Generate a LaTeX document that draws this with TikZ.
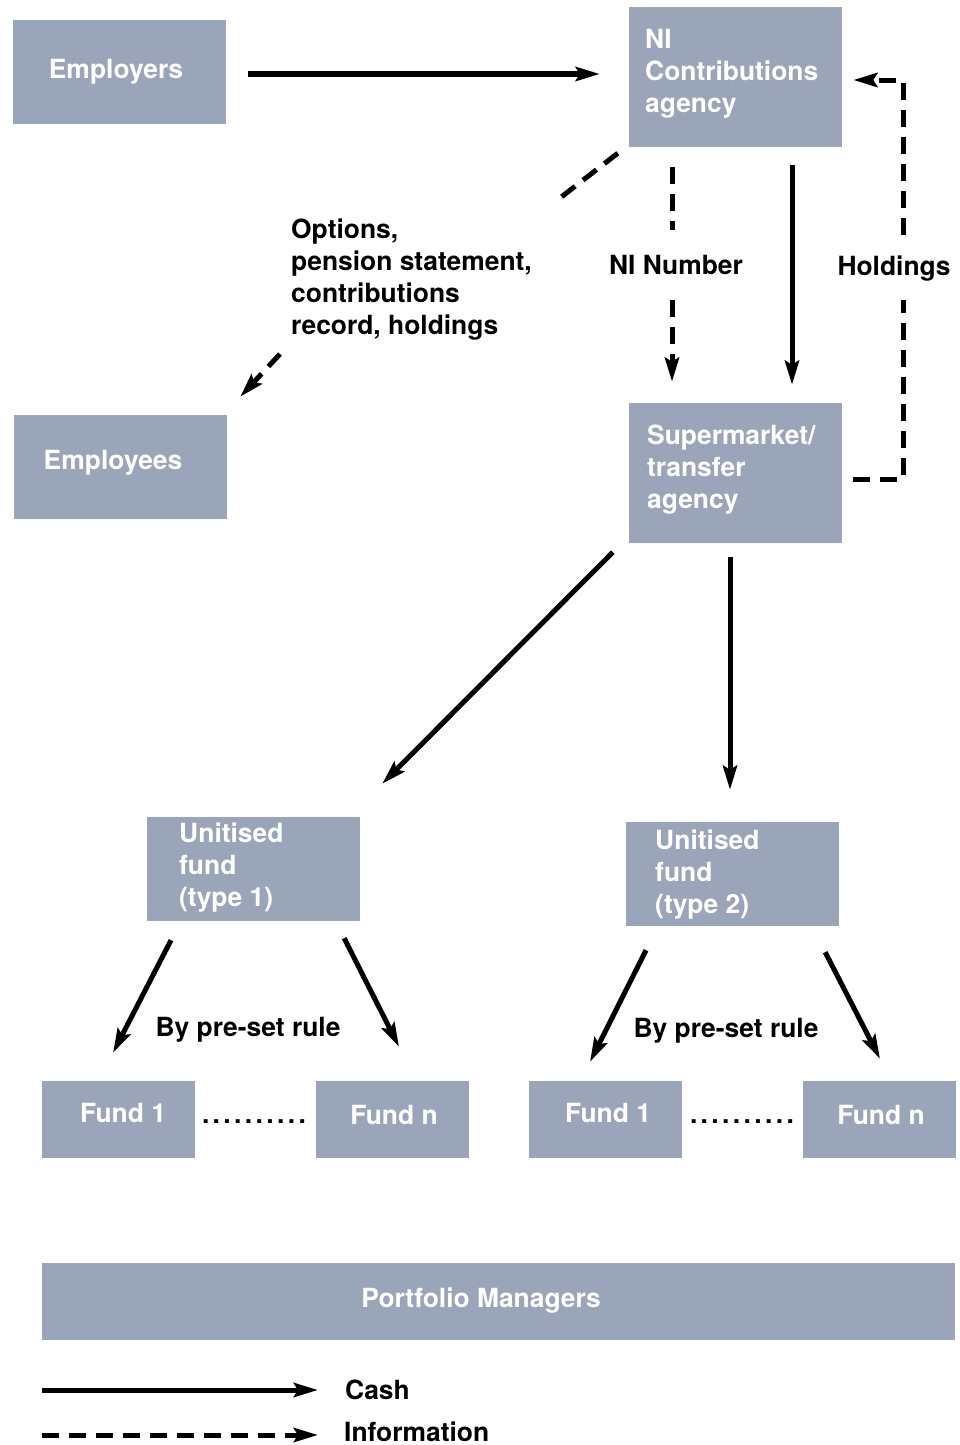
\documentclass[tikz,border=0pt]{standalone}
\usepackage{fontspec}
\setmainfont{TeX Gyre Heros}
\usetikzlibrary{arrows.meta,calc}
\definecolor{boxblue}{HTML}{9AA5BA}
\begin{document}
\begin{tikzpicture}[x=1pt,y=-1pt,
  box/.style={fill=boxblue,draw=none,inner sep=0pt},
  boxtxt/.style={text=white,font=\fontsize{26.4}{32}\selectfont\bfseries,inner sep=0pt,align=left},
  lbl/.style={text=black,font=\fontsize{26.4}{32}\selectfont\bfseries,inner sep=0pt,align=left},
  cash/.style={line width=5pt,-{Stealth[length=24pt,width=14pt,inset=4pt]}},
  info/.style={line width=5pt,dash pattern=on 17pt off 10pt},
  infoarrow/.style={info,-{Stealth[length=24pt,width=14pt,inset=4pt]}}]
\useasboundingbox (0,0) rectangle (960,1445);
% boxes
\node[box,minimum width=213pt,minimum height=104pt] (emp) at (119.5,72) {};
\node[boxtxt,anchor=center] (empt) at (116,72) {Employers};
\node[box,minimum width=213pt,minimum height=140pt] (ni) at (735.5,77) {};
\node[boxtxt,anchor=west] (nit) at (645,74) {NI\\Contributions\\agency};
\node[box,minimum width=213pt,minimum height=104pt] (empl) at (120.5,467) {};
\node[boxtxt,anchor=center] (emplt) at (113,463) {Employees};
\node[box,minimum width=213pt,minimum height=140pt] (sup) at (735.5,473) {};
\node[boxtxt,anchor=west] (supt) at (647,470) {Supermarket/\\transfer\\agency};
\node[box,minimum width=213pt,minimum height=104pt] (u1) at (253.5,869) {};
\node[boxtxt,anchor=west] (u1t) at (179,868) {Unitised\\fund\\(type 1)};
\node[box,minimum width=213pt,minimum height=104pt] (u2) at (732.5,874) {};
\node[boxtxt,anchor=west] (u2t) at (655,875) {Unitised\\fund\\(type 2)};
\node[box,minimum width=153pt,minimum height=77pt] (f1a) at (118.5,1119.5) {};
\node[boxtxt] (f1at) at (123,1113) {Fund 1};
\node[box,minimum width=153pt,minimum height=77pt] (fna) at (392.5,1119.5) {};
\node[boxtxt] (fnat) at (394,1115) {Fund n};
\node[box,minimum width=153pt,minimum height=77pt] (f1b) at (605.5,1119.5) {};
\node[boxtxt] (f1bt) at (608,1113) {Fund 1};
\node[box,minimum width=153pt,minimum height=77pt] (fnb) at (879.5,1119.5) {};
\node[boxtxt] (fnbt) at (881,1115) {Fund n};
\node[box,minimum width=913pt,minimum height=77pt] (pm) at (498.5,1301.5) {};
\node[boxtxt] (pmt) at (481,1301) {Portfolio Managers};
% labels
\node[lbl,anchor=west] (opt) at (291,280) {Options,\\pension statement,\\contributions\\record, holdings};
\node[lbl] (ninum) at (676,265) {NI Number};
\node[lbl] (hold) at (894,269) {Holdings};
\node[lbl] (rule1) at (248,1030) {By pre-set rule};
\node[lbl] (rule2) at (726,1031) {By pre-set rule};
\def\dotrow{.\kern3.4pt.\kern3.4pt.\kern3.4pt.\kern3.4pt.\kern3.4pt.\kern3.4pt.\kern3.4pt.\kern3.4pt.\kern3.4pt.}
\node[lbl] (dots1) at (254,1122) {\dotrow};
\node[lbl] (dots2) at (742,1122) {\dotrow};
% connectors
\draw[cash] ($(emp.east)+(22,2)$) -- ($(ni.west)+(-29,-3)$);
\coordinate (o1) at (560,198);
\coordinate (o2) at (280,354);
\draw[info] ($(ni.south west)+(-11,6)$) -- (o1);
\draw[infoarrow] (o2) -- ($(empl.north east)+(13,-18)$);
\draw[info] ($(ni.south)+(-63.5,20)$) -- ($(ni.south)+(-63.5,83)$);
\draw[infoarrow] ($(sup.north)+(-63.5,-103)$) -- ($(sup.north)+(-63.5,-21)$);
\draw[cash] ($(ni.south)+(56.5,18)$) -- ($(sup.north)+(56.5,-18)$);
\draw[info] ($(sup.east)+(11,6)$) -- ++(50,0) -- ++(0,-179);
\draw[infoarrow] ($(ni.east)+(61,158)$) -- ++(0,-155) -- ($(ni.east)+(11,3)$);
\draw[cash] ($(sup.south west)+(-16,9)$) -- ($(u1.north east)+(22,-33)$);
\draw[cash] ($(sup.south)+(-5.5,14)$) -- ($(u2.north)+(-2.5,-32)$);
\draw[cash] ($(u1.south)+(-82.5,19)$) -- ($(f1a.north)+(-5.5,-28)$);
\draw[cash] ($(u1.south east)+(-16,17)$) -- ($(fna.north)+(6.5,-34)$);
\draw[cash] ($(u2.south)+(-86.5,24)$) -- ($(f1b.north)+(-15.5,-19)$);
\draw[cash] ($(u2.south east)+(-14,26)$) -- ($(fnb.north)+(0.5,-22)$);
% legend
\coordinate (lc1) at (42,1390);
\coordinate (lc2) at (318,1390);
\coordinate (li1) at (42,1435);
\coordinate (li2) at (318,1435);
\draw[cash] (lc1) -- (lc2);
\draw[infoarrow] (li1) -- (li2);
\node[lbl,anchor=west] (cashl) at (345,1390) {Cash};
\node[lbl,anchor=west] (infol) at (344,1432) {Information};
\end{tikzpicture}
\end{document}
